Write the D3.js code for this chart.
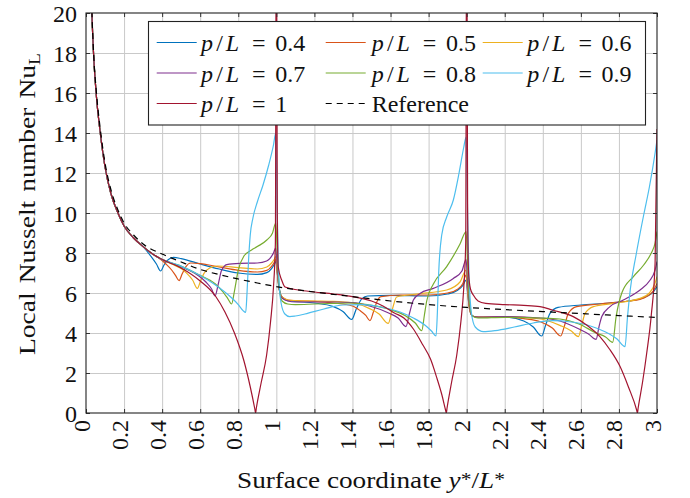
<!DOCTYPE html>
<html>
<head>
<meta charset="utf-8">
<script src="https://cdn.jsdelivr.net/npm/d3@7"></script>
<style>
  html, body { margin: 0; padding: 0; background: #fff; }
  svg, svg text { font-family: "Liberation Serif", "Tinos", "DejaVu Serif", serif; }
</style>
</head>
<body>
<svg id="chart" width="690" height="498"></svg>
<script>
// ---- Data: local Nusselt number along the surface coordinate y*/L* ----
// Shared leading-edge decay (all pitch ratios coincide here)
const nuLead = [[0.02,24.5],[0.03,20.3],[0.04,17.9],[0.055,15.8],[0.075,14.0],[0.1,12.3],
  [0.13,11.0],[0.17,9.95],[0.2,9.35],[0.25,8.75],[0.3,8.32]];

const pitch04 = [[0.34,7.85],[0.37,7.45],[0.392,7.1],[0.41,7.4],[0.43,7.65],[0.46,7.78],[0.5,7.72],
  [0.6,7.45],[0.7,7.2],[0.8,7.0],[0.9,6.93],[0.95,7.02],[0.975,7.22],[0.99,7.45],[0.997,7.6],
  [1.005,7.0],[1.015,6.2],[1.03,5.8],[1.06,5.62],[1.1,5.58],[1.2,5.5],[1.3,5.32],[1.35,5.08],
  [1.396,4.68],[1.42,5.2],[1.45,5.72],[1.48,5.85],[1.6,5.88],[1.8,5.85],[1.9,5.95],[1.95,6.12],
  [1.98,6.38],[1.997,6.65],[2.005,6.0],[2.015,5.2],[2.03,4.85],[2.06,4.78],[2.1,4.78],[2.2,4.8],
  [2.3,4.6],[2.35,4.3],[2.394,3.85],[2.415,4.4],[2.438,4.98],[2.48,5.28],[2.6,5.4],[2.75,5.5],
  [2.85,5.6],[2.91,5.7],[2.95,5.85],[2.98,6.05],[3.0,6.32]];

const pitch05 = [[0.35,7.95],[0.39,7.7],[0.42,7.45],[0.45,7.15],[0.47,6.88],[0.489,6.62],[0.505,6.95],
  [0.525,7.32],[0.55,7.5],[0.6,7.47],[0.7,7.3],[0.8,7.13],[0.9,7.05],[0.95,7.13],[0.975,7.33],
  [0.99,7.55],[0.997,7.68],[1.005,7.0],[1.015,6.2],[1.03,5.8],[1.06,5.65],[1.1,5.62],[1.2,5.58],
  [1.3,5.5],[1.4,5.35],[1.44,5.12],[1.47,4.88],[1.492,4.62],[1.51,5.05],[1.53,5.6],[1.55,5.82],
  [1.65,5.9],[1.8,5.9],[1.9,6.0],[1.95,6.18],[1.98,6.48],[1.997,6.9],[2.005,6.1],[2.015,5.2],
  [2.03,4.85],[2.06,4.8],[2.2,4.8],[2.3,4.72],[2.39,4.55],[2.45,4.25],[2.494,3.85],[2.515,4.4],
  [2.534,4.98],[2.578,5.32],[2.7,5.45],[2.85,5.6],[2.91,5.68],[2.95,5.85],[2.98,6.1],[3.0,6.48]];

const pitch06 = [[0.35,7.95],[0.39,7.72],[0.45,7.45],[0.5,7.22],[0.53,6.98],[0.56,6.65],[0.585,6.23],
  [0.6,6.55],[0.62,6.98],[0.65,7.25],[0.69,7.35],[0.8,7.27],[0.9,7.2],[0.95,7.3],[0.975,7.5],
  [0.99,7.7],[0.997,7.82],[1.005,7.1],[1.015,6.2],[1.03,5.8],[1.06,5.65],[1.1,5.62],[1.2,5.6],
  [1.3,5.58],[1.4,5.5],[1.49,5.22],[1.54,4.95],[1.588,4.48],[1.61,5.2],[1.632,5.8],[1.74,5.95],
  [1.895,6.15],[1.965,6.55],[1.997,7.15],[2.005,6.2],[2.015,5.2],[2.03,4.85],[2.06,4.8],[2.2,4.82],
  [2.39,4.7],[2.49,4.38],[2.55,4.1],[2.587,3.82],[2.605,4.4],[2.622,4.98],[2.666,5.32],[2.77,5.48],
  [2.911,5.73],[2.96,6.0],[2.99,6.5],[3.0,6.82]];

const pitch07 = [[0.35,7.95],[0.39,7.72],[0.49,7.35],[0.585,6.9],[0.63,6.55],[0.66,6.2],[0.678,5.85],
  [0.695,6.45],[0.712,7.12],[0.74,7.42],[0.81,7.48],[0.9,7.5],[0.949,7.6],[0.984,7.98],[0.997,8.25],
  [1.005,7.3],[1.015,6.2],[1.03,5.75],[1.06,5.6],[1.1,5.55],[1.2,5.55],[1.3,5.55],[1.4,5.52],
  [1.49,5.35],[1.59,5.0],[1.64,4.75],[1.681,4.32],[1.7,5.0],[1.72,5.65],[1.755,5.98],[1.825,6.23],
  [1.93,6.73],[1.975,7.1],[1.997,7.68],[2.005,6.5],[2.015,5.3],[2.03,4.85],[2.06,4.8],[2.2,4.82],
  [2.39,4.75],[2.49,4.6],[2.59,4.2],[2.64,3.95],[2.68,3.68],[2.695,4.3],[2.71,4.82],[2.753,5.32],
  [2.823,5.65],[2.911,6.15],[2.96,6.6],[2.99,7.15],[3.0,7.57]];

const pitch08 = [[0.35,7.95],[0.39,7.72],[0.49,7.38],[0.585,6.95],[0.68,6.45],[0.72,6.05],[0.745,5.72],
  [0.765,5.45],[0.78,6.1],[0.8,7.15],[0.83,7.85],[0.87,8.15],[0.9,8.32],[0.95,8.65],[0.98,9.0],
  [0.997,9.5],[1.005,8.0],[1.015,6.3],[1.03,5.6],[1.06,5.45],[1.1,5.42],[1.2,5.45],[1.3,5.48],
  [1.4,5.5],[1.49,5.4],[1.59,5.2],[1.68,4.85],[1.73,4.5],[1.764,4.12],[1.778,4.9],[1.79,5.6],
  [1.825,6.45],[1.895,7.32],[1.965,8.45],[1.997,9.07],[2.005,7.5],[2.015,5.5],[2.03,4.85],[2.06,4.75],
  [2.2,4.78],[2.39,4.75],[2.49,4.7],[2.59,4.45],[2.68,4.0],[2.73,3.8],[2.767,3.53],[2.785,4.8],
  [2.815,6.0],[2.876,6.82],[2.93,7.4],[2.97,8.0],[2.99,8.5],[3.0,9.07]];

const pitch09 = [[0.35,7.95],[0.39,7.72],[0.49,7.38],[0.585,6.95],[0.68,6.4],[0.76,5.8],[0.8,5.42],
  [0.825,5.12],[0.839,5.03],[0.846,6.0],[0.855,7.8],[0.863,8.9],[0.877,9.75],[0.9,10.55],[0.93,11.4],
  [0.96,12.4],[0.985,13.4],[0.997,14.0],[1.005,10.0],[1.012,7.0],[1.025,5.5],[1.045,4.95],[1.07,4.82],
  [1.1,4.85],[1.15,4.95],[1.25,5.2],[1.35,5.4],[1.45,5.42],[1.55,5.3],[1.65,5.05],[1.72,4.75],
  [1.78,4.4],[1.815,4.1],[1.839,3.85],[1.846,5.0],[1.853,7.0],[1.869,8.9],[1.895,9.8],[1.93,10.65],
  [1.96,12.0],[1.985,13.3],[1.997,13.8],[2.005,10.0],[2.012,7.0],[2.025,5.0],[2.045,4.3],[2.088,4.07],
  [2.15,4.12],[2.25,4.3],[2.35,4.5],[2.45,4.62],[2.55,4.55],[2.65,4.35],[2.73,4.05],[2.79,3.7],
  [2.832,3.32],[2.845,4.8],[2.86,6.2],[2.89,7.9],[2.93,9.9],[2.96,11.3],[2.99,13.0],[3.0,13.65]];

const pitch10 = [[0.35,7.95],[0.39,7.72],[0.5,7.25],[0.6,6.6],[0.68,5.85],[0.73,5.05],[0.78,4.0],
  [0.83,2.6],[0.862,1.35],[0.887,0.2],[0.891,0],[0.895,0.25],[0.92,1.5],[0.949,2.9],[0.97,4.6],
  [0.985,6.3],[0.995,8.5],[1.0,26],[1.005,10],[1.01,7.3],[1.028,6.65],[1.046,6.3],[1.115,6.15],
  [1.2,6.05],[1.3,5.95],[1.4,5.82],[1.5,5.6],[1.56,5.35],[1.62,5.0],[1.67,4.75],[1.72,4.2],[1.77,3.4],
  [1.81,2.7],[1.845,1.7],[1.87,0.9],[1.889,0.15],[1.893,0],[1.897,0.25],[1.92,1.5],[1.948,2.9],
  [1.97,4.6],[1.985,6.3],[1.995,8.5],[2.0,26],[2.005,10],[2.01,7.0],[2.02,6.2],[2.035,5.9],[2.06,5.6],
  [2.1,5.48],[2.2,5.42],[2.3,5.38],[2.385,5.32],[2.45,5.15],[2.56,4.82],[2.63,4.4],[2.7,3.82],
  [2.75,3.2],[2.806,2.32],[2.85,1.3],[2.893,0.15],[2.897,0],[2.901,0.25],[2.925,1.6],[2.946,3.0],
  [2.97,4.9],[2.99,7.5],[3.0,14.2]];

const reference = [[0.02,24.5],[0.03,20.4],[0.04,18.0],[0.055,16.0],[0.075,14.2],[0.1,12.5],
  [0.13,11.2],[0.17,10.1],[0.2,9.5],[0.25,8.9],[0.3,8.45],[0.4,7.95],[0.5,7.55],[0.6,7.18],[0.7,6.92],
  [0.8,6.7],[0.9,6.5],[1.0,6.32],[1.2,6.05],[1.4,5.82],[1.6,5.6],[1.8,5.42],[2.0,5.28],[2.2,5.17],
  [2.4,5.07],[2.6,4.97],[2.8,4.87],[3.0,4.78]];

const pitchLabels = ["0.4", "0.5", "0.6", "0.7", "0.8", "0.9", "1"];
const seriesColors = ["#0072BD", "#D95319", "#EDB120", "#7E2F8E", "#77AC30", "#4DBEEE", "#A2142F"];
const pitchSeries = [pitch04, pitch05, pitch06, pitch07, pitch08, pitch09, pitch10];

const xTickValues = [0, 0.2, 0.4, 0.6, 0.8, 1, 1.2, 1.4, 1.6, 1.8, 2, 2.2, 2.4, 2.6, 2.8, 3];
const xTickLabels = ["0", "0.2", "0.4", "0.6", "0.8", "1", "1.2", "1.4", "1.6", "1.8", "2", "2.2", "2.4", "2.6", "2.8", "3"];
const yTickValues = [0, 2, 4, 6, 8, 10, 12, 14, 16, 18, 20];
const yTickLabels = ["0", "2", "4", "6", "8", "10", "12", "14", "16", "18", "20"];

(function draw() {
  const svg = d3.select("#chart");
  const pL = 86, pR = 657, pT = 13, pB = 413;
  const FONT = 24;
  const SERIF = "'Liberation Serif', 'Tinos', 'DejaVu Serif', serif";

  const x = d3.scaleLinear().domain([0, 3]).range([pL, pR]);
  const y = d3.scaleLinear().domain([0, 20]).range([pB, pT]);

  // grid
  const grid = svg.append("g").attr("color", "#c9c9c9");
  grid.append("g").attr("transform", `translate(0,${pB})`)
    .call(d3.axisBottom(x).tickValues(xTickValues.filter(v => v > 0 && v < 3)).tickSize(-(pB - pT)).tickFormat(""))
    .call(g => g.select(".domain").remove());
  grid.append("g").attr("transform", `translate(${pL},0)`)
    .call(d3.axisLeft(y).tickValues(yTickValues.filter(v => v > 0 && v < 20)).tickSize(-(pR - pL)).tickFormat(""))
    .call(g => g.select(".domain").remove());

  // curves
  svg.append("defs").append("clipPath").attr("id", "plotClip")
    .append("rect").attr("x", pL).attr("y", pT).attr("width", pR - pL).attr("height", pB - pT);

  const line = d3.line().x(d => x(d[0])).y(d => y(d[1])).curve(d3.curveMonotoneX);
  const curves = svg.append("g").attr("clip-path", "url(#plotClip)");
  pitchSeries.forEach((s, i) => {
    curves.append("path")
      .attr("d", line(nuLead.concat(s)))
      .attr("fill", "none")
      .attr("stroke", seriesColors[i])
      .attr("stroke-width", 1.2)
      .attr("stroke-linejoin", "round");
  });
  curves.append("path")
    .attr("d", line(reference))
    .attr("fill", "none")
    .attr("stroke", "#000")
    .attr("stroke-width", 1.2)
    .attr("stroke-dasharray", "6,5");

  // axis ticks (inward, on all four sides) and labels
  const axisColor = "#333";
  const xb = svg.append("g").attr("transform", `translate(0,${pB})`).attr("color", axisColor)
    .call(d3.axisBottom(x).tickValues(xTickValues).tickSize(-4).tickFormat((d, i) => xTickLabels[i]));
  xb.select(".domain").remove();
  xb.attr("font-family", SERIF).attr("font-size", FONT);
  xb.selectAll("text")
    .attr("fill", "#111")
    .attr("transform", "rotate(-90)")
    .attr("text-anchor", "end")
    .attr("x", -7).attr("y", 0).attr("dy", 3);

  svg.append("g").attr("transform", `translate(0,${pT})`).attr("color", axisColor)
    .call(d3.axisTop(x).tickValues(xTickValues).tickSize(-4).tickFormat(""))
    .call(g => g.select(".domain").remove());

  const yl = svg.append("g").attr("transform", `translate(${pL},0)`).attr("color", axisColor)
    .call(d3.axisLeft(y).tickValues(yTickValues).tickSize(-4).tickPadding(9).tickFormat((d, i) => yTickLabels[i]));
  yl.select(".domain").remove();
  yl.attr("font-family", SERIF).attr("font-size", FONT);
  yl.selectAll("text").attr("fill", "#111").attr("dy", "0.34em");

  svg.append("g").attr("transform", `translate(${pR},0)`).attr("color", axisColor)
    .call(d3.axisRight(y).tickValues(yTickValues).tickSize(-4).tickFormat(""))
    .call(g => g.select(".domain").remove());

  // frame
  svg.append("rect").attr("x", pL).attr("y", pT).attr("width", pR - pL).attr("height", pB - pT)
    .attr("fill", "none").attr("stroke", "#222").attr("stroke-width", 1.1);

  // axis titles
  function stretchTo(textSel, target) {
    const w = textSel.node().getBBox().width;
    textSel.attr("transform", `scale(${target / w},1)`);
  }
  const xTitle = svg.append("g").attr("transform", "translate(237,488)")
    .append("text").attr("font-family", SERIF).attr("font-size", FONT).attr("fill", "#111");
  xTitle.append("tspan").text("Surface coordinate ");
  xTitle.append("tspan").attr("font-style", "italic").text("y");
  xTitle.append("tspan").attr("font-size", 19).attr("dy", -2).text("*");
  xTitle.append("tspan").attr("dy", 2).text("/");
  xTitle.append("tspan").attr("font-style", "italic").text("L");
  xTitle.append("tspan").attr("font-size", 19).attr("dy", -2).text("*");
  stretchTo(xTitle, 268);

  const yTitle = svg.append("g").attr("transform", "translate(35,355) rotate(-90)")
    .append("text").attr("font-family", SERIF).attr("font-size", FONT).attr("fill", "#111").attr("word-spacing", 2);
  yTitle.append("tspan").text("Local Nusselt number Nu");
  yTitle.append("tspan").attr("font-size", 17).attr("dy", 5).text("L");
  stretchTo(yTitle, 302);

  // legend
  const legend = svg.append("g").attr("font-family", SERIF);
  legend.append("rect").attr("x", 148.5).attr("y", 21.5).attr("width", 497).attr("height", 103.5)
    .attr("fill", "#fff").attr("stroke", "#222").attr("stroke-width", 1.1);
  const colLine = [156.7, 325.7, 482.7];
  const colText = [201, 371.7, 527.3];
  const rowBase = [51, 81.5, 112];
  const legendEntries = pitchLabels.map((lab, i) => ({ lab, color: seriesColors[i], dashed: false }))
    .concat([{ lab: "Reference", color: "#000", dashed: true }]);
  legendEntries.forEach((e, i) => {
    const c = i % 3, r = Math.floor(i / 3);
    const ly = rowBase[r] - 8.5;
    legend.append("line").attr("x1", colLine[c]).attr("x2", colLine[c] + 40).attr("y1", ly).attr("y2", ly)
      .attr("stroke", e.color).attr("stroke-width", 1.2)
      .attr("stroke-dasharray", e.dashed ? "6,5" : null);
    const t = legend.append("text").attr("y", rowBase[r]).attr("font-size", FONT).attr("fill", "#111");
    const tx = colText[c];
    if (e.dashed) {
      t.attr("x", tx).text(e.lab);
    } else {
      t.append("tspan").attr("x", tx).attr("font-style", "italic").text("p");
      t.append("tspan").attr("x", tx + 15.2).text("/");
      t.append("tspan").attr("x", tx + 24.7).attr("font-style", "italic").text("L");
      t.append("tspan").attr("x", tx + 51.1).text("=");
      t.append("tspan").attr("x", tx + 74.2).text(e.lab);
    }
  });
})();
</script>
</body>
</html>
